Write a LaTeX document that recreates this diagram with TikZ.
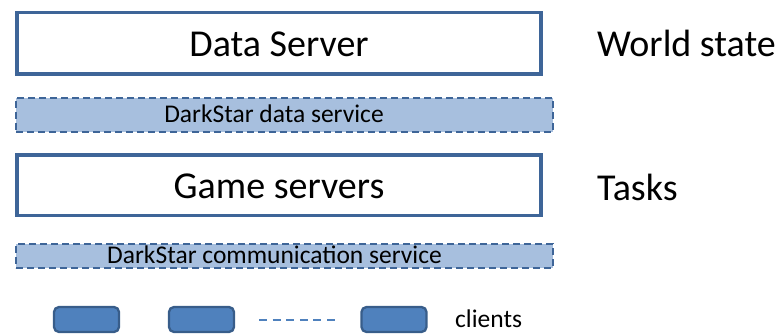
\documentclass[tikz,border=0pt]{standalone}
\usepackage{fontspec}
\setmainfont{Carlito}
\definecolor{bordblue}{RGB}{62,101,152}
\definecolor{lightfill}{RGB}{167,191,222}
\definecolor{clientfill}{RGB}{79,129,189}
\definecolor{clientbord}{RGB}{56,93,138}
\tikzset{
  bigfont/.style={font=\fontsize{38}{41}\selectfont},
  smallfont/.style={font=\fontsize{25.5}{28}\selectfont},
  serverbox/.style={draw=bordblue, line width=3.5pt, fill=white, rectangle, inner sep=0pt, minimum width=524pt},
  servicebox/.style={draw=bordblue, line width=2.3pt, fill=lightfill, rectangle, inner sep=0pt, dash pattern=on 7pt off 4pt, minimum width=537pt},
  clientbox/.style={draw=clientbord, line width=2.3pt, fill=clientfill, rectangle, rounded corners=5pt, inner sep=0pt, minimum width=65pt, minimum height=25pt},
  sidelabel/.style={anchor=west, inner sep=0pt},
  dotsline/.style={draw=clientfill, line width=2pt, dash pattern=on 8pt off 5.6pt}
}
\begin{document}
\begin{tikzpicture}[x=1pt,y=-1pt]
\useasboundingbox (0,0) rectangle (778,334);
\node[serverbox, minimum height=61.5pt] (ds) at (279,43.5) {};
\node[bigfont] (dstext) at (279,44) {Data Server};
\node[servicebox, minimum height=34pt] (dsvc) at (284.5,115) {};
\node[smallfont] (dsvctext) at (274,114) {DarkStar data service};
\node[serverbox, minimum height=60.5pt] (gs) at (279,185) {};
\node[bigfont] (gstext) at (279,186) {Game servers};
\node[servicebox, minimum height=24pt] (csvc) at (284.5,256) {};
\node[smallfont] (csvctext) at (274.5,255) {DarkStar communication service};
\node[clientbox] (c1) at (86.5,319.5) {};
\node[clientbox] (c2) at (201.5,319.5) {};
\node[clientbox] (c3) at (394,319.5) {};
\coordinate (dl1) at (259,320);
\coordinate (dl2) at (335,320);
\draw[dotsline] (dl1) -- (dl2);
\node[smallfont, sidelabel] (cl) at (455,319) {clients};
\node[bigfont, sidelabel] (ws) at (597,43) {World state};
\node[bigfont, sidelabel] (tk) at (597,187) {Tasks};
\end{tikzpicture}
\end{document}
